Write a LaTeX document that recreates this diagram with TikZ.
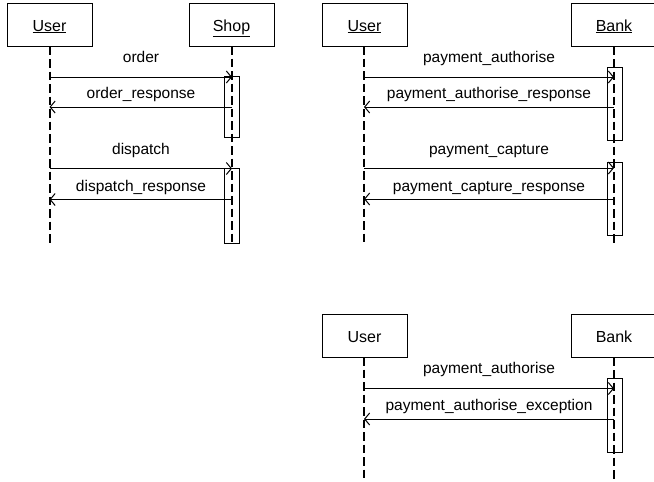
\documentclass[tikz,border=0pt]{standalone}
\usepackage{fontspec}
\setmainfont{Liberation Sans}
\usetikzlibrary{arrows.meta}
\begin{document}
\begin{tikzpicture}[x=1pt,y=-1pt,
  obj/.style={draw,line width=1pt,minimum width=85pt,minimum height=43pt,inner sep=0pt,text height=13pt,text depth=0pt,font=\fontsize{16}{19}\selectfont},
  life/.style={line width=2pt,dash pattern=on 8.5pt off 4pt},
  act/.style={draw,line width=1pt,minimum width=15pt,inner sep=0pt},
  msg/.style={line width=1pt,-{Straight Barb[length=5pt,width=12pt,line width=1pt]}},
  lbl/.style={font=\fontsize{15.5}{18}\selectfont,anchor=base,inner sep=0pt}]
\useasboundingbox (0,0) rectangle (654,482);

% ---------- left diagram ----------
\node[obj] (u1) at (49.5,24.5) {\underline{User}};
\node[obj] (s1) at (231.5,24.5) {\underline{Shop}};
\node[act,minimum height=61pt] (a1) at (232,106.5) {};
\node[act,minimum height=75pt] (a2) at (232,205.5) {};
\coordinate (u1end) at (49.5,243);
\coordinate (s1end) at (232,243);
\draw[life] (u1.south) -- (u1end);
\draw[life] (232,46) -- (s1end);

\coordinate (m1s) at (49.5,77);   \coordinate (m1e) at (232,77);
\coordinate (m2s) at (232,107);   \coordinate (m2e) at (49.5,107);
\coordinate (m3s) at (49.5,168.5);\coordinate (m3e) at (232,168.5);
\coordinate (m4s) at (232,199.5); \coordinate (m4e) at (49.5,199.5);
\draw[msg] (m1s) -- (m1e);
\draw[msg] (m2s) -- (m2e);
\draw[msg] (m3s) -- (m3e);
\draw[msg] (m4s) -- (m4e);
\node[lbl] (l1) at (141,62) {order};
\node[lbl] (l2) at (141,98) {order\_response};
\node[lbl] (l3) at (141,154) {dispatch};
\node[lbl] (l4) at (141,191) {dispatch\_response};

% ---------- right top diagram ----------
\node[obj] (u2) at (364.5,24.5) {\underline{User}};
\node[obj] (b2) at (614,24.5) {\underline{Bank}};
\node[act,minimum height=73pt] (b2a1) at (614.5,103.5) {};
\node[act,minimum height=73pt] (b2a2) at (614.5,198.5) {};
\coordinate (u2end) at (364,243);
\coordinate (b2end) at (614,243);
\draw[life] (364,46) -- (u2end);
\draw[life] (b2.south) -- (b2end);

\coordinate (n1s) at (364,77);    \coordinate (n1e) at (614,77);
\coordinate (n2s) at (614,107);   \coordinate (n2e) at (364,107);
\coordinate (n3s) at (364,168);   \coordinate (n3e) at (614,168);
\coordinate (n4s) at (614,199);   \coordinate (n4e) at (364,199);
\draw[msg] (n1s) -- (n1e);
\draw[msg] (n2s) -- (n2e);
\draw[msg] (n3s) -- (n3e);
\draw[msg] (n4s) -- (n4e);
\node[lbl] (k1) at (489,62) {payment\_authorise};
\node[lbl] (k2) at (489,98) {payment\_authorise\_response};
\node[lbl] (k3) at (489,154) {payment\_capture};
\node[lbl] (k4) at (489,191) {payment\_capture\_response};

% ---------- bottom diagram ----------
\node[obj] (u3) at (364.5,335.5) {User};
\node[obj] (b3) at (614,335.5) {Bank};
\node[act,minimum height=74pt] (b3a1) at (614.5,415) {};
\coordinate (u3end) at (364,482);
\coordinate (b3end) at (614,482);
\draw[life] (364,357) -- (u3end);
\draw[life] (b3.south) -- (b3end);

\coordinate (p1s) at (364,388.5); \coordinate (p1e) at (614,388.5);
\coordinate (p2s) at (614,419);   \coordinate (p2e) at (364,419);
\draw[msg] (p1s) -- (p1e);
\draw[msg] (p2s) -- (p2e);
\node[lbl] (q1) at (489,373) {payment\_authorise};
\node[lbl] (q2) at (489,410) {payment\_authorise\_exception};
\end{tikzpicture}
\end{document}
